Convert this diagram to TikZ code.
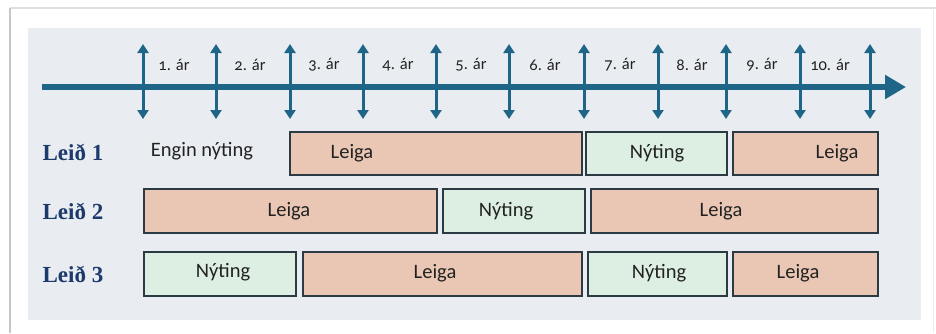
\documentclass[tikz,border=0pt]{standalone}
\usepackage{fontspec}
\setmainfont{Carlito}
\newfontfamily\yearfont[Numbers=OldStyle]{Carlito}
\newfontfamily\leidfont{Liberation Serif}
\usetikzlibrary{arrows.meta}
\definecolor{panelbg}{HTML}{E9EDF1}
\definecolor{axisblue}{HTML}{1F6587}
\definecolor{leigafill}{HTML}{EAC7B4}
\definecolor{nytfill}{HTML}{DDEFE3}
\definecolor{boxline}{HTML}{2C3A44}
\definecolor{navy}{HTML}{1E3A6C}
\definecolor{txt}{HTML}{222222}
\tikzset{
  leigabox/.style={draw=boxline, line width=1.8pt, fill=leigafill},
  nytbox/.style={draw=boxline, line width=1.8pt, fill=nytfill},
  bartext/.style={font=\fontsize{20.5}{22}\selectfont, text=txt, inner sep=0pt},
  yeartext/.style={font=\yearfont\fontsize{16.5}{18}\selectfont, text=txt, inner sep=0pt},
  leidtext/.style={font=\leidfont\bfseries\fontsize{23}{25}\selectfont, text=navy, inner sep=0pt},
  tick/.style={draw=axisblue, line width=3pt, {Triangle[width=11pt,length=9pt]}-{Triangle[width=11pt,length=9pt]}},
}
\begin{document}
\begin{tikzpicture}[x=1pt,y=-1pt]
\useasboundingbox (0,0) rectangle (936,333);
\fill[white] (0,0) rectangle (936,333);
% card edges
\draw[line width=2pt, draw=gray!25] (10,8) -- (936,8);
\draw[line width=2.5pt, draw=gray!45] (10,8) -- (10,333);
\draw[line width=1pt, draw=gray!15] (933,8) -- (933,333);
% panel
\fill[panelbg] (28,28) rectangle (921,320);
% axis
\coordinate (axs) at (42,87);
\coordinate (axe) at (906,87);
\draw[draw=axisblue, line width=6pt, -{Triangle[width=23pt,length=21pt]}] (axs) -- (axe);
% ticks
\foreach \i/\x in {0/143,1/216,2/290,3/363,4/436,5/509,6/584,7/658,8/726,9/800,10/870}{
  \coordinate (t\i) at (\x,44);
  \coordinate (b\i) at (\x,119);
  \draw[tick] (b\i) -- (t\i);
}
% year labels
\foreach \n/\x in {1/174,2/250,3/324,4/398,5/471,6/545,7/620,8/692,9/762,10/830}{
  \node[yeartext] (y\n) at (\x,65) {\n. ár};
}
% row labels
\node[leidtext] (l1) at (73,152) {Leið 1};
\node[leidtext] (l2) at (73,211) {Leið 2};
\node[leidtext] (l3) at (73,274) {Leið 3};
% row 1
\node[bartext] (e1) at (202,151) {Engin nýting};
\draw[leigabox] (290,132) rectangle (582,175);
\node[bartext] (r1a) at (352,153) {Leiga};
\draw[nytbox] (586,132) rectangle (727,175);
\node[bartext] (r1b) at (657,153) {Nýting};
\draw[leigabox] (733,132) rectangle (878,175);
\node[bartext] (r1c) at (837,153) {Leiga};
% row 2
\draw[leigabox] (144,189) rectangle (437,233);
\node[bartext] (r2a) at (289,211) {Leiga};
\draw[nytbox] (443,189) rectangle (585,233);
\node[bartext] (r2b) at (506,211) {Nýting};
\draw[leigabox] (591,189) rectangle (878,233);
\node[bartext] (r2c) at (721,211) {Leiga};
% row 3
\draw[nytbox] (144,252) rectangle (296,296);
\node[bartext] (r3a) at (223,272) {Nýting};
\draw[leigabox] (303,252) rectangle (582,296);
\node[bartext] (r3b) at (435,273) {Leiga};
\draw[nytbox] (588,252) rectangle (727,296);
\node[bartext] (r3c) at (659,273) {Nýting};
\draw[leigabox] (733,252) rectangle (878,296);
\node[bartext] (r3d) at (798,273) {Leiga};
\end{tikzpicture}
\end{document}
